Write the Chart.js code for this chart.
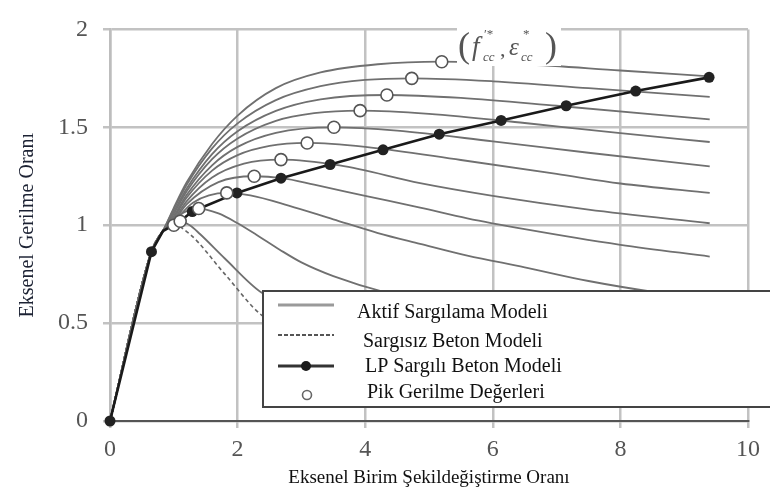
<!DOCTYPE html>
<html>
<head>
<meta charset="utf-8">
<script src="https://cdn.jsdelivr.net/npm/chart.js@4.4.1/dist/chart.umd.min.js"></script>
<style>
  html, body { margin: 0; padding: 0; background: #fff; }
  #kutu { width: 770px; height: 496px; }
</style>
</head>
<body>
<div id="kutu"><canvas id="grafik" width="770" height="496"></canvas></div>
<script>
// eksen değerleri
const xTicks = [0, 2, 4, 6, 8, 10];
const yTicks = [0, 0.5, 1, 1.5, 2];

// aktif sargılama eğrileri [birim şekildeğiştirme oranı, gerilme oranı]
const aktif1 = [[0,0],[0.65,0.865],[0.83,0.97],[1.0,1.089],[1.2,1.218],[1.6,1.415],[2.0,1.56],[2.6,1.70],[3.3,1.78],[4.2,1.822],[5.2,1.835],[6.5,1.822],[8.0,1.79],[9.4,1.76]];
const aktif2 = [[0,0],[0.65,0.865],[0.83,0.97],[1.0,1.081],[1.2,1.205],[1.6,1.392],[2.0,1.52],[2.6,1.639],[3.3,1.71],[4.0,1.742],[4.73,1.75],[6.0,1.735],[7.5,1.70],[9.4,1.655]];
const aktif3 = [[0,0],[0.65,0.865],[0.83,0.97],[1.0,1.068],[1.2,1.186],[1.6,1.363],[2.0,1.48],[2.6,1.584],[3.3,1.643],[4.34,1.665],[5.5,1.65],[7.0,1.61],[9.4,1.54]];
const aktif4 = [[0,0],[0.65,0.865],[0.83,0.97],[1.0,1.058],[1.2,1.172],[1.6,1.337],[2.0,1.443],[2.6,1.533],[3.2,1.572],[3.92,1.585],[5.0,1.569],[6.5,1.522],[8.0,1.47],[9.4,1.425]];
const aktif5 = [[0,0],[0.65,0.865],[0.83,0.97],[1.0,1.046],[1.2,1.154],[1.6,1.306],[2.0,1.40],[2.6,1.472],[3.51,1.50],[4.5,1.483],[6.0,1.428],[7.5,1.37],[9.4,1.30]];
const aktif6 = [[0,0],[0.65,0.865],[0.83,0.97],[1.0,1.038],[1.2,1.14],[1.6,1.279],[2.0,1.358],[2.5,1.405],[3.09,1.42],[4.0,1.40],[5.5,1.333],[7.0,1.262],[8.0,1.213],[9.4,1.165]];
const aktif7 = [[0,0],[0.65,0.865],[0.83,0.97],[1.0,1.028],[1.2,1.122],[1.6,1.244],[2.1,1.315],[2.68,1.335],[3.6,1.305],[4.86,1.215],[6.0,1.15],[7.5,1.08],[9.4,1.01]];
const aktif8 = [[0,0],[0.65,0.865],[0.83,0.97],[1.0,1.02],[1.2,1.106],[1.7,1.22],[2.26,1.25],[2.7,1.24],[3.2,1.207],[4.0,1.15],[4.86,1.09],[5.6,1.035],[6.5,0.98],[8.0,0.90],[9.4,0.84]];
const aktif9 = [[0,0],[0.65,0.865],[0.83,0.97],[1.0,1.017],[1.3,1.115],[1.83,1.165],[2.2,1.152],[2.8,1.10],[3.5,1.03],[4.2,0.96],[4.86,0.905],[5.6,0.845],[6.5,0.785],[7.5,0.715],[8.6,0.655],[9.4,0.62]];
const aktif10 = [[0,0],[0.65,0.865],[0.83,0.97],[1.0,1.025],[1.15,1.064],[1.39,1.085],[1.7,1.06],[2.0,1.01],[2.3,0.95],[2.66,0.875],[3.0,0.81],[3.5,0.74],[4.34,0.655],[6.0,0.55],[9.4,0.42]];
const aktif11 = [[0,0],[0.65,0.865],[0.83,0.97],[0.95,1.005],[1.1,1.02],[1.25,1.0],[1.41,0.955],[1.8,0.83],[2.38,0.655],[4.0,0.45],[9.4,0.25]];

// sargısız beton
const sargisiz = [[0,0],[0.65,0.865],[0.83,0.97],[1.0,1.0],[1.25,0.955],[1.8,0.75],[2.38,0.54],[4.0,0.30]];

// LP sargılı beton modeli
const lpModel = [[0,0],[0.65,0.865],[0.83,0.97],[1.1,1.02],[1.29,1.07],[1.99,1.165],[2.68,1.24],[3.45,1.31],[4.28,1.385],[5.16,1.465],[6.13,1.535],[7.15,1.61],[8.24,1.685],[9.39,1.755]];
const lpIsaretli = [true, true, false, false, true, true, true, true, true, true, true, true, true, true];

// pik gerilme değerleri
const pikNoktalari = [[1.0,1.0],[1.1,1.02],[1.39,1.085],[1.83,1.165],[2.26,1.25],[2.68,1.335],[3.09,1.42],[3.51,1.50],[3.92,1.585],[4.34,1.665],[4.73,1.75],[5.2,1.835]];

const serif = '"Liberation Serif", "Times New Roman", serif';

function noktalar(liste) {
    return liste.map(function(p) { return { x: p[0], y: p[1] }; });
}

function griEgri(liste) {
    return {
        data: noktalar(liste),
        showLine: true,
        borderColor: '#707070',
        borderWidth: 1.8,
        pointRadius: 0,
        cubicInterpolationMode: 'monotone',
        order: 4
    };
}

var datasets = [aktif1, aktif2, aktif3, aktif4, aktif5, aktif6, aktif7, aktif8, aktif9, aktif10, aktif11].map(griEgri);

datasets.push({
    data: noktalar(sargisiz),
    showLine: true,
    borderColor: '#666',
    borderWidth: 1.6,
    borderDash: [4, 3],
    pointRadius: 0,
    cubicInterpolationMode: 'monotone',
    order: 3
});

datasets.push({
    data: noktalar(lpModel),
    showLine: true,
    clip: false,
    borderColor: '#1a1a1a',
    borderWidth: 2.6,
    pointRadius: lpIsaretli.map(function(v) { return v ? 5.5 : 0; }),
    pointBackgroundColor: '#222',
    pointBorderColor: '#222',
    pointBorderWidth: 0,
    tension: 0,
    order: 2
});

datasets.push({
    data: noktalar(pikNoktalari),
    showLine: false,
    clip: false,
    pointRadius: 6,
    pointBackgroundColor: '#fff',
    pointBorderColor: '#555',
    pointBorderWidth: 1.6,
    order: 1
});

// açıklama kutusu ve (f'cc, ε'cc) etiketi
const ekler = {
    id: 'ekler',
    afterDraw: function(chart) {
        var ctx = chart.ctx;
        ctx.save();

        // etiket
        ctx.fillStyle = '#fff';
        ctx.fillRect(457, 24, 104, 42);
        ctx.fillStyle = '#555';
        ctx.textBaseline = 'alphabetic';
        ctx.textAlign = 'left';
        ctx.font = '36px ' + serif;
        ctx.fillText('(', 458, 57);
        ctx.font = 'italic 27px ' + serif;
        ctx.fillText('f', 472, 55);
        ctx.font = '13px ' + serif;
        ctx.fillText('\u2032*', 484, 38);
        ctx.font = 'italic 13px ' + serif;
        ctx.fillText('cc', 483, 61);
        ctx.font = '22px ' + serif;
        ctx.fillText(',', 500, 56);
        ctx.font = 'italic 25px ' + serif;
        ctx.fillText('\u03b5', 509, 55);
        ctx.font = '13px ' + serif;
        ctx.fillText('*', 523, 38);
        ctx.font = 'italic 13px ' + serif;
        ctx.fillText('cc', 521, 61);
        ctx.font = '36px ' + serif;
        ctx.fillText(')', 545, 57);

        // açıklama kutusu
        ctx.fillStyle = '#fff';
        ctx.fillRect(263, 291, 510, 116);
        ctx.strokeStyle = '#444';
        ctx.lineWidth = 2;
        ctx.strokeRect(263, 291, 510, 116);

        ctx.lineCap = 'butt';
        ctx.strokeStyle = '#9a9a9a';
        ctx.lineWidth = 3;
        ctx.beginPath(); ctx.moveTo(278, 305); ctx.lineTo(334, 305); ctx.stroke();

        ctx.strokeStyle = '#555';
        ctx.lineWidth = 2;
        ctx.setLineDash([4, 2]);
        ctx.beginPath(); ctx.moveTo(278, 335); ctx.lineTo(334, 335); ctx.stroke();
        ctx.setLineDash([]);

        ctx.strokeStyle = '#333';
        ctx.lineWidth = 3;
        ctx.beginPath(); ctx.moveTo(278, 366); ctx.lineTo(334, 366); ctx.stroke();
        ctx.fillStyle = '#1a1a1a';
        ctx.beginPath(); ctx.arc(306, 366, 5, 0, Math.PI * 2); ctx.fill();

        ctx.strokeStyle = '#666';
        ctx.lineWidth = 1.6;
        ctx.fillStyle = '#fff';
        ctx.beginPath(); ctx.arc(307, 395, 4.5, 0, Math.PI * 2); ctx.fill(); ctx.stroke();

        ctx.fillStyle = '#111';
        ctx.font = '20px ' + serif;
        ctx.fillText('Aktif Sargılama Modeli', 357, 318);
        ctx.fillText('Sargısız Beton Modeli', 363, 347);
        ctx.fillText('LP Sargılı Beton Modeli', 365, 372);
        ctx.fillText('Pik Gerilme Değerleri', 367, 398);

        ctx.restore();
    }
};

var grafik = new Chart(document.getElementById('grafik').getContext('2d'), {
    type: 'scatter',
    data: { datasets: datasets },
    options: {
        responsive: false,
        animation: false,
        layout: { padding: { left: 12, top: 21, right: 22, bottom: 3 } },
        plugins: {
            legend: { display: false },
            tooltip: { enabled: false }
        },
        scales: {
            x: {
                type: 'linear',
                min: 0,
                max: 10,
                afterBuildTicks: function(scale) {
                    scale.ticks = xTicks.map(function(v) { return { value: v }; });
                },
                afterFit: function(scale) { scale.height = 72; },
                ticks: {
                    padding: 7,
                    color: '#555',
                    font: { family: serif, size: 24 },
                    callback: function(v) { return String(v); }
                },
                grid: { color: '#c2c2c2', lineWidth: 2.5, tickLength: 7 },
                border: { color: '#555', width: 2 },
                title: {
                    display: true,
                    text: 'Eksenel Birim Şekildeğiştirme Oranı',
                    color: '#111',
                    font: { family: serif, size: 19 }
                }
            },
            y: {
                type: 'linear',
                min: 0,
                max: 2,
                afterBuildTicks: function(scale) {
                    scale.ticks = yTicks.map(function(v) { return { value: v }; });
                },
                afterFit: function(scale) { scale.width = 98; },
                ticks: {
                    padding: 15,
                    color: '#555',
                    font: { family: serif, size: 24 },
                    callback: function(v) { return String(v); }
                },
                grid: { color: '#c2c2c2', lineWidth: 2.5, tickLength: 7 },
                border: { color: '#bdbdbd', width: 2.5 },
                title: {
                    display: true,
                    text: 'Eksenel Gerilme Oranı',
                    color: '#1c2233',
                    font: { family: serif, size: 20 }
                }
            }
        }
    },
    plugins: [ekler]
});
</script>
</body>
</html>
